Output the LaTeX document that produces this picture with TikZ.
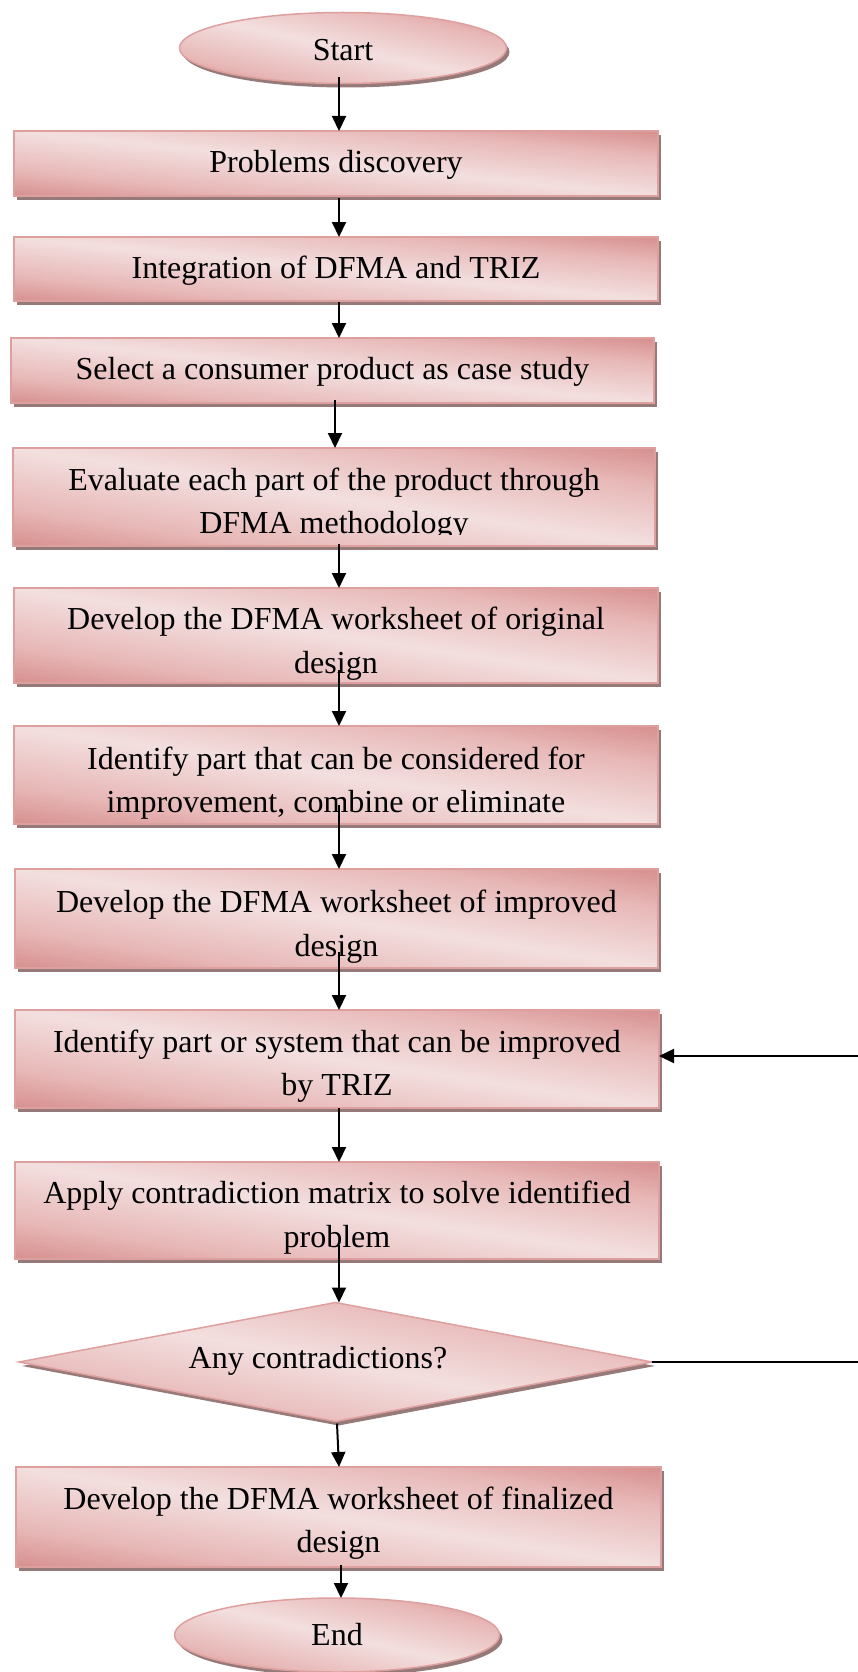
\documentclass[tikz,border=0pt]{standalone}
\usepackage{fontspec}
\setmainfont{Liberation Serif}
\usetikzlibrary{shapes.geometric,arrows.meta,shadows,calc}
\definecolor{pkdark}{RGB}{214,143,142}
\definecolor{pkmid}{RGB}{231,184,183}
\definecolor{pklight}{RGB}{243,223,223}
\definecolor{pkedge}{RGB}{222,160,158}
\definecolor{shadegray}{RGB}{150,122,122}
% diagonal pink gradient: dark in two opposite corners, light along the other diagonal
\pgfdeclarehorizontalshading{pinkdiag}{100bp}{color(0bp)=(pkdark); color(20bp)=(pkmid); color(50bp)=(pklight); color(80bp)=(pkmid); color(100bp)=(pkdark)}
\begin{document}
\begin{tikzpicture}[x=1pt,y=-1pt,
  diagshade/.style={path picture={%
    \pgfpointdiff{\pgfpointanchor{path picture bounding box}{south west}}{\pgfpointanchor{path picture bounding box}{north east}}%
    \pgfgetlastxy{\shW}{\shH}%
    \pgfmathsetmacro{\shA}{\shW/100}%
    \pgfmathsetmacro{\shB}{\shH/100}%
    \pgftransformshift{\pgfpointanchor{path picture bounding box}{center}}%
    \pgftransformcm{\shA}{\shB}{\shA}{-\shB}{\pgfpointorigin}%
    \pgflowlevelsynccm
    \pgfuseshading{pinkdiag}}},
  boxfont/.style={font=\fontsize{32}{43.5}\selectfont},
  boxtext/.style={boxfont, align=center, inner sep=0pt},
  flow/.style={fill=pklight, diagshade, draw=pkedge, line width=1.5pt,
    drop shadow={shadow xshift=3pt,shadow yshift=-4pt,fill=shadegray,opacity=1},
    inner sep=0pt, outer sep=0pt},
  stepbox/.style={flow, rectangle},
  term/.style={flow, ellipse},
  decide/.style={flow, diamond},
  arr/.style={-{Triangle[length=15pt,width=14pt]}, line width=2pt},
  link/.style={line width=1.8pt}]
\useasboundingbox (0,0) rectangle (858,1672);

% terminals
\node[term, minimum width=327pt, minimum height=71pt] (start) at (343,48) {};
\node[boxtext] (tstart) at ($(start.center)+(0,2)$) {Start};
\node[term, minimum width=325pt, minimum height=74pt] (end) at (337,1635) {};
\node[boxtext] (tend) at (end.center) {End};

% process steps (boxes first, then their captions)
\node[stepbox, minimum width=644pt, minimum height=65pt] (b1) at (336,163.5) {};
\node[boxtext] (t1) at ($(b1.center)+(0,1.5)$) {Problems discovery};
\node[stepbox, minimum width=644pt, minimum height=64pt] (b2) at (336,269) {};
\node[boxtext] (t2) at ($(b2.center)+(0,1.5)$) {Integration of DFMA and TRIZ};
\node[stepbox, minimum width=643pt, minimum height=65pt] (b3) at (332.5,370.5) {};
\node[boxtext] (t3) at ($(b3.center)+(0,1.5)$) {Select a consumer product as case study};
\node[stepbox, minimum width=642pt, minimum height=98pt] (b4) at (334,497) {};
\begin{scope}
  % the second line runs past the text frame and is cut just below its baseline
  \clip (b4.north west) rectangle ($(b4.east)+(0,37)$);
  \node[boxtext] (t4) at ($(b4.center)+(0,7)$) {Evaluate each part of the product through\\DFMA methodology};
\end{scope}
\node[stepbox, minimum width=644pt, minimum height=95pt] (b5) at (336,635.5) {};
\node[boxtext] (t5) at ($(b5.center)+(0,8)$) {Develop the DFMA worksheet of original\\design};
\node[stepbox, minimum width=644pt, minimum height=98pt] (b6) at (336,775) {};
\node[boxtext] (t6) at ($(b6.center)+(0,8)$) {Identify part that can be considered for\\improvement, combine or eliminate};
\node[stepbox, minimum width=643pt, minimum height=99pt] (b7) at (336.5,918.5) {};
\node[boxtext] (t7) at ($(b7.center)+(0,8)$) {Develop the DFMA worksheet of improved\\design};
\node[stepbox, minimum width=644pt, minimum height=98pt] (b8) at (337,1059) {};
\node[boxtext] (t8) at ($(b8.center)+(0,7)$) {Identify part or system that can be improved\\by TRIZ};
\node[stepbox, minimum width=644pt, minimum height=97pt] (b9) at (337,1210.5) {};
\node[boxtext] (t9) at ($(b9.center)+(0,7)$) {Apply contradiction matrix to solve identified\\problem};
\node[decide, minimum width=633pt, minimum height=119pt] (dia) at (335.5,1362) {};
\node[boxtext] (dq) at (318,1361) {Any contradictions?};
\node[stepbox, minimum width=645pt, minimum height=100pt] (b11) at (338.5,1517) {};
\node[boxtext] (t11) at ($(b11.center)+(0,6)$) {Develop the DFMA worksheet of finalized\\design};

% connectors
\coordinate (ax) at (339,0);
\draw[arr] ($(start.south -| ax)+(0,-6)$) -- (b1.north -| ax);
\draw[arr] ($(b1.south -| ax)+(0,2)$) -- (b2.north -| ax);
\draw[arr] ($(b2.south -| ax)+(0,1)$) -- (b3.north -| ax);
\draw[arr] ($(b3.south)+(2.5,-3)$) -- ($(b4.north)+(1,0)$);
\draw[arr] ($(b4.south -| ax)+(0,-2)$) -- (b5.north -| ax);
\draw[arr] ($(b5.south -| ax)+(0,-13)$) -- (b6.north -| ax);
\draw[arr] ($(b6.south -| ax)+(0,-19)$) -- (b7.north -| ax);
\draw[arr] ($(b7.south -| ax)+(0,-16)$) -- (b8.north -| ax);
\draw[arr] (b8.south -| ax) -- (b9.north -| ax);
\draw[arr] ($(b9.south -| ax)+(0,-14)$) -- (dia.north -| ax);
\draw[arr] ($(dia.south)+(1.5,2)$) -- (b11.north -| ax);
\draw[arr] ($(b11.south)+(2.5,-2)$) -- ($(end.north)+(4,0)$);

% feedback from the decision back to the TRIZ step
\coordinate (fbA) at (858,1362);
\coordinate (fbB) at (858,1056);
\draw[link] (dia.east) -- (fbA);
\draw[arr] (fbB) -- (b8.east |- fbB);
\end{tikzpicture}
\end{document}
